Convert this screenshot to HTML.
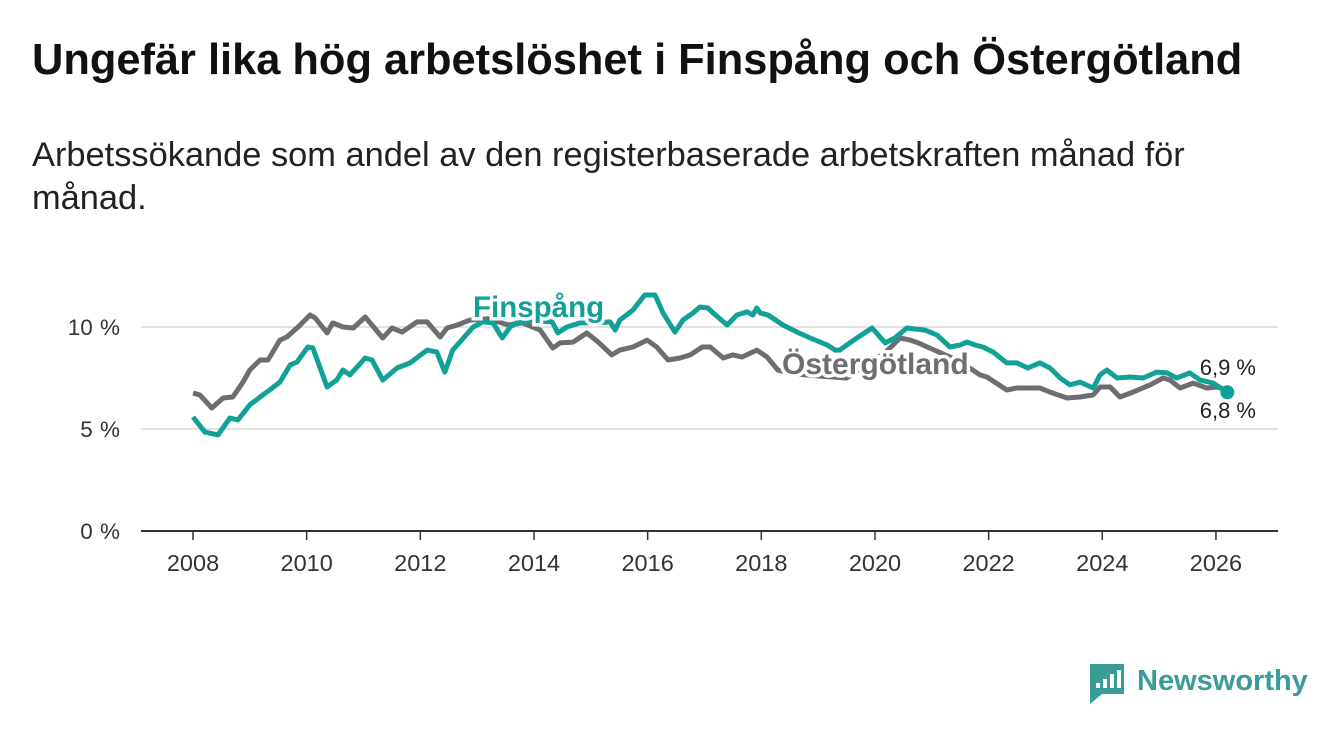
<!DOCTYPE html>
<html><head><meta charset="utf-8"><style>
body{margin:0;width:1340px;height:734px;background:#fff;overflow:hidden;font-family:"Liberation Sans",sans-serif;}
#title{position:absolute;left:32px;top:36px;font-size:43.4px;font-weight:bold;color:#111;white-space:nowrap;}
#sub{position:absolute;left:32px;top:134px;font-size:34.4px;line-height:43px;color:#222;width:1200px;}
svg{position:absolute;left:0;top:0;}
</style></head><body>
<div id="title">Ungefär lika hög arbetslöshet i Finspång och Östergötland</div>
<div id="sub">Arbetssökande som andel av den registerbaserade arbetskraften månad för månad.</div>
<svg id="chart" width="1340" height="734"></svg>
<script>
const finYears=[2008.00,2008.21,2008.44,2008.65,2008.79,2009.00,2009.23,2009.35,2009.53,2009.71,2009.83,2010.02,2010.11,2010.36,2010.53,2010.64,2010.76,2011.03,2011.15,2011.34,2011.59,2011.82,2012.12,2012.29,2012.43,2012.57,2012.93,2013.10,2013.28,2013.44,2013.58,2013.70,2014.00,2014.32,2014.42,2014.58,2014.81,2015.11,2015.34,2015.43,2015.51,2015.74,2015.95,2016.13,2016.27,2016.48,2016.62,2016.80,2016.92,2017.06,2017.15,2017.40,2017.57,2017.75,2017.85,2017.92,2017.98,2018.12,2018.38,2018.63,2018.86,2019.16,2019.30,2019.38,2019.68,2019.95,2020.18,2020.35,2020.56,2020.88,2021.09,2021.32,2021.50,2021.62,2021.76,2021.90,2022.08,2022.32,2022.50,2022.69,2022.90,2023.08,2023.26,2023.43,2023.61,2023.84,2023.96,2024.08,2024.26,2024.49,2024.72,2024.96,2025.14,2025.31,2025.54,2025.72,2025.95,2026.20];
const finValues=[5.59,4.85,4.71,5.54,5.44,6.18,6.67,6.91,7.30,8.14,8.28,9.02,8.97,7.06,7.40,7.89,7.65,8.48,8.38,7.40,7.99,8.24,8.87,8.77,7.79,8.87,10.0,10.25,10.2,9.46,10.0,10.2,10.3,10.25,9.71,10.0,10.2,10.2,10.25,9.85,10.34,10.83,11.57,11.57,10.69,9.75,10.34,10.69,10.98,10.93,10.69,10.1,10.59,10.74,10.59,10.93,10.69,10.59,10.1,9.75,9.46,9.12,8.87,8.87,9.46,9.95,9.22,9.46,9.95,9.85,9.61,9.02,9.12,9.26,9.12,9.02,8.77,8.24,8.24,7.99,8.24,7.99,7.50,7.16,7.30,7.01,7.65,7.89,7.50,7.55,7.50,7.79,7.75,7.50,7.75,7.40,7.25,6.8];
const ostYears=[2008.00,2008.12,2008.33,2008.53,2008.70,2008.88,2009.00,2009.18,2009.32,2009.53,2009.65,2009.85,2010.06,2010.15,2010.36,2010.46,2010.64,2010.82,2011.03,2011.34,2011.50,2011.68,2011.94,2012.12,2012.35,2012.47,2012.65,2012.87,2013.20,2013.55,2013.80,2014.11,2014.33,2014.46,2014.69,2014.93,2015.13,2015.37,2015.51,2015.74,2015.99,2016.16,2016.36,2016.57,2016.75,2016.96,2017.10,2017.33,2017.50,2017.66,2017.92,2018.10,2018.29,2018.60,2019.00,2019.50,2019.90,2020.20,2020.44,2020.62,2020.76,2021.10,2021.50,2021.85,2021.97,2022.32,2022.50,2022.90,2023.08,2023.38,2023.61,2023.84,2023.96,2024.14,2024.31,2024.54,2024.84,2025.07,2025.19,2025.37,2025.60,2025.84,2026.02,2026.20];
const ostValues=[6.76,6.67,6.03,6.52,6.57,7.30,7.89,8.38,8.38,9.36,9.51,10.0,10.59,10.44,9.71,10.2,10.0,9.95,10.49,9.46,9.95,9.75,10.25,10.25,9.51,9.95,10.1,10.34,10.4,10.1,10.2,9.85,8.97,9.22,9.26,9.71,9.26,8.63,8.87,9.02,9.36,9.02,8.38,8.48,8.63,9.02,9.02,8.48,8.63,8.53,8.87,8.53,7.89,7.7,7.6,7.5,8.2,8.8,9.46,9.36,9.22,8.8,8.3,7.65,7.55,6.91,7.01,7.01,6.81,6.52,6.57,6.67,7.06,7.06,6.57,6.81,7.16,7.50,7.40,7.01,7.25,7.01,7.06,6.9];
const yTicks=[0,5,10];
const yTickLabels=["0 %","5 %","10 %"];
const xTicks=[2008,2010,2012,2014,2016,2018,2020,2022,2024,2026];
const NS="http://www.w3.org/2000/svg";
const svg=document.getElementById('chart');
const X=y=>193+(y-2008)*56.83;
const Y=v=>531-v*20.4;
function mk(t,a,txt){const e=document.createElementNS(NS,t);for(const k in a)e.setAttribute(k,a[k]);if(txt!==undefined)e.textContent=txt;svg.appendChild(e);return e;}
yTicks.forEach((v,i)=>{
  const g=mk('line',{x1:141,x2:1278,y1:Y(v),y2:Y(v),stroke:v===0?'#333':'#d8d8d8','stroke-width':v===0?2:1.5});
  
  
  const t=mk('text',{x:120,y:Y(v)+8,'text-anchor':'end','font-size':22.5,'word-spacing':1,fill:'#333'},yTickLabels[i]);
  
  
});
xTicks.forEach(y=>{
  const l=mk('line',{x1:X(y),x2:X(y),y1:531,y2:540,stroke:'#333','stroke-width':1.5});
  
  
  const t=mk('text',{x:X(y),y:571,'text-anchor':'middle','font-size':23.5,fill:'#333'},String(y));
  
  
});
function path(xs,vs){return xs.map((x,i)=>(i?'L':'M')+X(x).toFixed(1)+','+Y(vs[i]).toFixed(1)).join('');}
const po=mk('path',{d:path(ostYears,ostValues),fill:'none',stroke:'#6e6d72','stroke-width':5,'stroke-linejoin':'round'});


const pf=mk('path',{d:path(finYears,finValues),fill:'none',stroke:'#12a197','stroke-width':5,'stroke-linejoin':'round'});


const lastF=finValues.length-1;
const dot=mk('circle',{cx:X(finYears[lastF]),cy:Y(finValues[lastF]),r:7,fill:'#12a197'});


const sl=mk('text',{x:473,y:317,'font-size':29.5,'font-weight':'bold',fill:'#12a197',stroke:'#fff','stroke-width':7,'paint-order':'stroke'},'Finspång');


const so=mk('text',{x:782,y:374,'font-size':30,'font-weight':'bold',fill:'#6e6d72',stroke:'#fff','stroke-width':7,'paint-order':'stroke'},'Östergötland');


const v1=mk('text',{x:1256,y:375,'text-anchor':'end','font-size':22,fill:'#222',stroke:'#fff','stroke-width':4,'paint-order':'stroke'},'6,9 %');


const v2=mk('text',{x:1256,y:418,'text-anchor':'end','font-size':22,fill:'#222'},'6,8 %');


const lg=mk('g',{});


const r=document.createElementNS(NS,'path');r.setAttribute('d','M1090,664h34v30h-22l-12,10z');r.setAttribute('fill','#3a9c96');lg.appendChild(r);
[[1096,683,5],[1103,679,9],[1110,674,14],[1117,670,18]].forEach(b=>{const q=document.createElementNS(NS,'rect');q.setAttribute('x',b[0]);q.setAttribute('y',b[1]);q.setAttribute('width',4);q.setAttribute('height',b[2]);q.setAttribute('fill','#fff');lg.appendChild(q);});
const lt=document.createElementNS(NS,'text');lt.setAttribute('x',1137);lt.setAttribute('y',690);lt.setAttribute('font-size',29);lt.setAttribute('fill','#3a9c96');lt.setAttribute('font-weight','bold');lt.textContent='Newsworthy';lg.appendChild(lt);
</script>
</body></html>
